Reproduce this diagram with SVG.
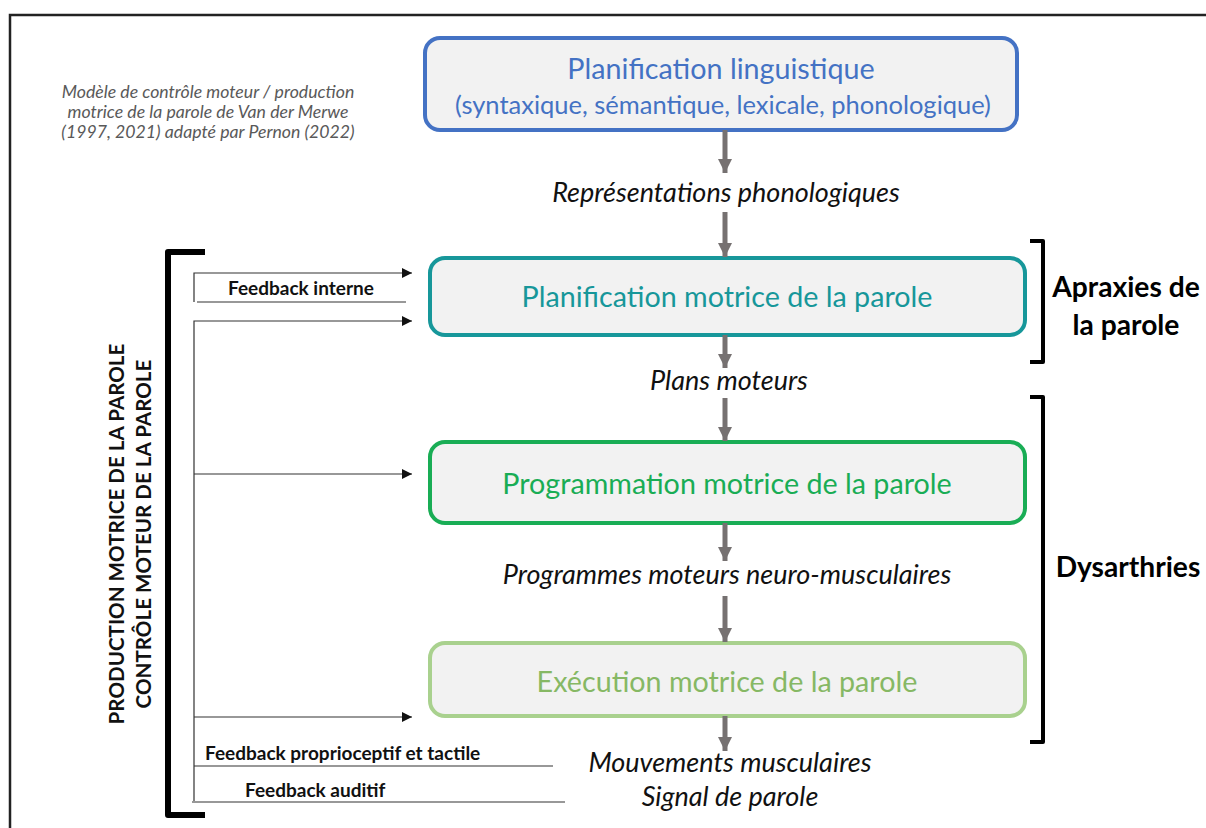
<svg xmlns="http://www.w3.org/2000/svg" width="1206" height="828" viewBox="0 0 1206 828">
<defs>
<style>
.box{fill:#f2f2f2;stroke-width:4}
.t{font-family:Lato,"Open Sans",sans-serif;text-anchor:middle}
.it{font-family:Lato,"Open Sans",sans-serif;font-style:italic;text-anchor:middle;fill:#111;font-size:27px}
.fb{font-family:Lato,"Open Sans",sans-serif;font-weight:bold;font-size:19px;fill:#111}
.big{font-family:Lato,"Open Sans",sans-serif;font-weight:bold;font-size:28.2px;fill:#000}
.vt{font-family:Lato,"Open Sans",sans-serif;font-weight:bold;font-size:20.6px;fill:#111;text-anchor:middle}
.thin{stroke:#333;stroke-width:1.2;fill:none}
.ga{stroke:#767171;stroke-width:5;fill:none}
.br{stroke:#000;fill:none;stroke-linejoin:round}
</style>
<marker id="ah" viewBox="0 0 10 10" refX="10" refY="5" markerWidth="10" markerHeight="10" markerUnits="userSpaceOnUse" orient="auto">
<path d="M0,0 L10,5 L0,10 z" fill="#111"/>
</marker>
<marker id="gh" viewBox="0 0 10 10" refX="10" refY="5" markerWidth="14" markerHeight="14" markerUnits="userSpaceOnUse" orient="auto">
<path d="M0,0 L10,5 L0,10 z" fill="#767171"/>
</marker>
</defs>
<rect width="1206" height="828" fill="#fff"/>
<g id="frame"><path d="M10,828 V15 H1206" stroke="#222" stroke-width="2.5" fill="none"/></g>
<g id="caption">
<text class="t" font-style="italic" font-size="17.7" fill="#595959" x="208" y="98">Modèle de contrôle moteur / production</text>
<text class="t" font-style="italic" font-size="17.7" fill="#595959" x="208" y="118">motrice de la parole de Van der Merwe</text>
<text class="t" font-style="italic" font-size="17.7" fill="#595959" x="208" y="138">(1997, 2021) adapté par Pernon (2022)</text>
</g>
<g id="n1">
<rect class="box" x="425" y="38" width="592" height="92" rx="15" stroke="#4472c4"/>
<text class="t" font-size="28.7" fill="#4472c4" x="721" y="79">Planification linguistique</text>
<text class="t" font-size="25.5" fill="#4472c4" x="723" y="114">(syntaxique, sémantique, lexicale, phonologique)</text>
</g>
<g id="n2">
<rect class="box" x="430" y="258" width="595" height="77" rx="15" stroke="#17979a"/>
<text class="t" font-size="28.7" fill="#17979a" x="727" y="307">Planification motrice de la parole</text>
</g>
<g id="n3">
<rect class="box" x="430" y="442" width="595" height="81" rx="15" stroke="#19ad55"/>
<text class="t" font-size="28.7" fill="#19ad55" x="727" y="494">Programmation motrice de la parole</text>
</g>
<g id="n4">
<rect class="box" x="430" y="643" width="595" height="73" rx="15" stroke="#a9d18e"/>
<text class="t" font-size="28.7" fill="#86b864" x="727" y="692">Exécution motrice de la parole</text>
</g>
<g id="labels">
<text class="it" x="726" y="202">Représentations phonologiques</text>
<text class="it" x="729" y="390">Plans moteurs</text>
<text class="it" x="727" y="584">Programmes moteurs neuro-musculaires</text>
<text class="it" x="730" y="772">Mouvements musculaires</text>
<text class="it" x="730" y="806">Signal de parole</text>
<text class="big" x="1126" y="297" text-anchor="middle">Apraxies de</text>
<text class="big" x="1126" y="335" text-anchor="middle">la parole</text>
<text class="big" x="1128" y="577" text-anchor="middle">Dysarthries</text>
<text class="vt" transform="translate(124,534) rotate(-90)">PRODUCTION MOTRICE DE LA PAROLE</text>
<text class="vt" transform="translate(151,534) rotate(-90)">CONTRÔLE MOTEUR DE LA PAROLE</text>
<text class="fb" x="228" y="295">Feedback interne</text>
<text class="fb" x="205" y="760">Feedback proprioceptif et tactile</text>
<text class="fb" x="245" y="797">Feedback auditif</text>
</g>
<g id="connectors">
<line class="ga" x1="725" y1="130" x2="725" y2="173" marker-end="url(#gh)"/>
<line class="ga" x1="725" y1="212" x2="725" y2="257" marker-end="url(#gh)"/>
<line class="ga" x1="725" y1="335" x2="725" y2="368" marker-end="url(#gh)"/>
<line class="ga" x1="725" y1="398" x2="725" y2="441" marker-end="url(#gh)"/>
<line class="ga" x1="725" y1="523" x2="725" y2="561" marker-end="url(#gh)"/>
<line class="ga" x1="725" y1="596" x2="725" y2="642" marker-end="url(#gh)"/>
<line class="ga" x1="725" y1="716" x2="725" y2="751" marker-end="url(#gh)"/>
<path class="thin" d="M194,302 V273 H412" marker-end="url(#ah)"/>
<line class="thin" x1="197" y1="302" x2="406" y2="302"/>
<path class="thin" d="M194,801 V321 H412" marker-end="url(#ah)"/>
<line class="thin" x1="194" y1="474" x2="412" y2="474" marker-end="url(#ah)"/>
<line class="thin" x1="194" y1="717" x2="412" y2="717" marker-end="url(#ah)"/>
<line class="thin" x1="194" y1="766" x2="553" y2="766"/>
<line class="thin" x1="192" y1="802" x2="565" y2="802"/>
<path class="br" stroke-width="6" d="M205,252 H168 V815 H205"/>
<path class="br" stroke-width="4" d="M1030,241 H1043 V362 H1030"/>
<path class="br" stroke-width="4" d="M1030,397 H1043 V742 H1030"/>
</g>
</svg>
